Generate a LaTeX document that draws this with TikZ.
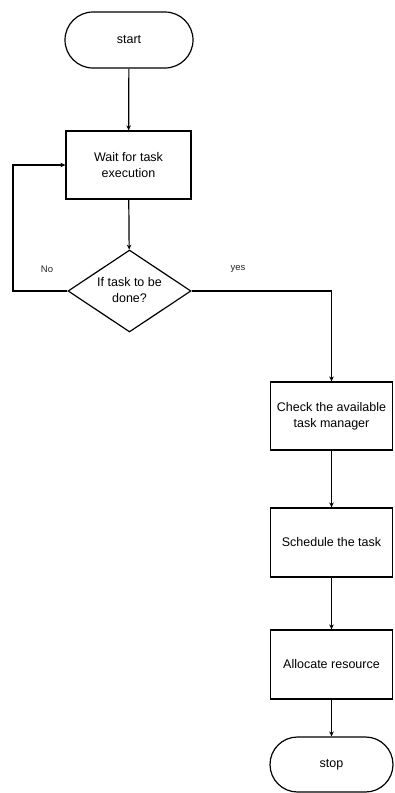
\documentclass[tikz,border=0pt]{standalone}
\usepackage{fontspec}
\setmainfont{Liberation Sans}
\usetikzlibrary{arrows.meta,shapes.geometric}
\tikzset{
  base/.style={draw=black, line width=1.2pt, inner sep=0pt, align=center,
    font=\fontsize{12.5}{16}\selectfont},
  procbox/.style={base, rectangle, minimum width=122pt, minimum height=68pt},
  termbox/.style={base, rectangle, rounded corners=27.5pt, minimum width=123pt, minimum height=55pt},
  decbox/.style={draw=black, line width=1.2pt, diamond, inner sep=0pt, minimum width=123pt, minimum height=82pt},
  flow/.style={draw=black, line width=1.2pt, -{Stealth[length=5pt,width=4.5pt]}},
  lbl/.style={font=\fontsize{9.5}{11}\selectfont, text=black!85}
}
\begin{document}
\begin{tikzpicture}[x=1pt,y=-1pt]
\useasboundingbox (0,0) rectangle (394,793);
\node[termbox, minimum width=128pt, minimum height=56pt, rounded corners=28pt] (start) at (129,40) {start};
\node[procbox, minimum width=125pt] (wait) at (128.5,165) {Wait for task\\execution};
\node[decbox] (dec) at (129.5,291) {};
\node[base, draw=none] (dectext) at (129.5,290) {If task to be\\done?};
\node[procbox] (check) at (331.5,416) {Check the available\\task manager};
\node[procbox, minimum height=69pt] (sched) at (331.5,542.5) {Schedule the task};
\node[procbox, minimum height=69pt] (alloc) at (331.5,664.5) {Allocate resource};
\node[termbox] (stop) at (331.5,764.5) {stop};
\coordinate (loopc) at (13,291);
\node[lbl] (nolbl) at (47,269) {No};
\node[lbl] (yeslbl) at (238,269) {yes};
\draw[flow] (start) -- (wait);
\draw[flow] (wait) -- (dec);
\draw[flow] (dec.west) -- (loopc) |- (wait.west);
\draw[flow] (dec.east) -| (check.north);
\draw[flow] (check) -- (sched);
\draw[flow] (sched) -- (alloc);
\draw[flow] (alloc) -- (stop);
\end{tikzpicture}
\end{document}
